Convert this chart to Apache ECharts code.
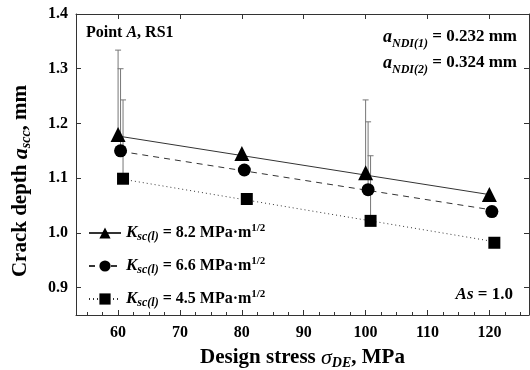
<!DOCTYPE html>
<html>
<head>
<meta charset="utf-8">
<script src="https://cdn.jsdelivr.net/npm/echarts@6/dist/echarts.min.js"></script>
<style>
  html, body { margin: 0; padding: 0; background: #fff; }
  #chart { width: 530px; height: 370px; }
</style>
</head>
<body>
<div id="chart"></div>
<script>
// design stress (MPa) for each symbol set, slightly offset as in the figure
const stressTri = [60, 80, 100, 120];
const stressCir = [60.4, 80.4, 100.4, 120.4];
const stressSq = [60.8, 80.8, 100.8, 120.8];

// crack depth a_scc (mm)
const depth82 = [1.180, 1.145, 1.110, 1.070];
const depth66 = [1.150, 1.115, 1.079, 1.039];
const depth45 = [1.099, 1.062, 1.022, 0.982];

// upper ends of the scatter bars (null = no bar)
const upper82 = [1.334, null, 1.243, null];
const upper66 = [1.300, null, 1.203, null];
const upper45 = [1.243, null, 1.141, null];

// trend lines, start and end values
const fit82 = [1.177, 1.070];
const fit66 = [1.149, 1.042];
const fit45 = [1.098, 0.984];

const xMajor = [60, 70, 80, 90, 100, 110, 120];
const xMinor = [55, 57.5, 62.5, 65, 67.5, 72.5, 75, 77.5, 82.5, 85, 87.5, 92.5, 95, 97.5,
  102.5, 105, 107.5, 112.5, 115, 117.5, 122.5, 125];
const yMajor = [0.9, 1.0, 1.1, 1.2, 1.3, 1.4];

const FONT = "Liberation Serif";

const pairs = (xs, ys) => xs.map((x, i) => [x, ys[i]]);
const bars = (xs, ys, tops) =>
  xs.map((x, i) => [x, ys[i], tops[i]]).filter((d) => d[2] != null);

const legendRich = {
  k: { fontFamily: FONT, fontWeight: "bold", fontStyle: "italic", fontSize: 17, color: "#000", lineHeight: 20 },
  sub: { fontFamily: FONT, fontWeight: "bold", fontStyle: "italic", fontSize: 12, color: "#000", verticalAlign: "bottom", lineHeight: 12 },
  b: { fontFamily: FONT, fontWeight: "bold", fontSize: 16, color: "#000", lineHeight: 20 },
  sup: { fontFamily: FONT, fontWeight: "bold", fontSize: 11, color: "#000", verticalAlign: "top", lineHeight: 11 },
};

// title styles (axis names)
const titleRich = {
  b: { fontFamily: FONT, fontWeight: "bold", fontSize: 21, color: "#000", fill: "#000", lineHeight: 24 },
  i: { fontFamily: FONT, fontWeight: "bold", fontStyle: "italic", fontSize: 22, color: "#000", fill: "#000", lineHeight: 24 },
  g: { fontFamily: FONT, fontStyle: "italic", fontSize: 22, color: "#000", fill: "#000", lineHeight: 24 },
  s: { fontFamily: FONT, fontWeight: "bold", fontStyle: "italic", fontSize: 14, color: "#000", fill: "#000", verticalAlign: "bottom", lineHeight: 14 },
};

const errorBar = (name, data) => ({
  name: name + "_err",
  type: "custom",
  data: data,
  z: 1,
  renderItem: (params, api) => {
    const lo = api.coord([api.value(0), api.value(1)]);
    const hi = api.coord([api.value(0), api.value(2)]);
    const st = { stroke: "#777", lineWidth: 1 };
    return {
      type: "group",
      children: [
        { type: "line", shape: { x1: lo[0], y1: lo[1], x2: hi[0], y2: hi[1] }, style: st },
        { type: "line", shape: { x1: hi[0] - 3, y1: hi[1], x2: hi[0] + 3, y2: hi[1] }, style: st },
      ],
    };
  },
});

const fitLine = (name, xs, ys, symbol, size, dash) => ({
  name: name,
  type: "line",
  data: [[xs[0], ys[0]], [xs[3], ys[1]]],
  symbol: symbol,
  symbolSize: size,
  showSymbol: false,
  color: "#000",
  lineStyle: { color: "#333", width: 1, type: dash },
  z: 2,
  silent: true,
});

const points = (name, data, symbol, size) => ({
  name: name + "_pts",
  type: "scatter",
  data: data,
  symbol: symbol,
  symbolSize: size,
  itemStyle: { color: "#000", opacity: 1 },
  z: 3,
});

const frameLine = { show: true, onZero: false, lineStyle: { color: "#333", width: 1 } };

const chart = echarts.init(document.getElementById("chart"));

chart.setOption({
  animation: false,
  grid: { left: 76, right: 1, top: 14, bottom: 55, outerBoundsMode: "none", containLabel: false },
  xAxis: [
    {
      type: "value",
      min: 53.2,
      max: 126.4,
      position: "bottom",
      axisLine: frameLine,
      axisTick: { inside: true, length: 5, customValues: xMajor, lineStyle: { color: "#333" } },
      axisLabel: {
        customValues: xMajor,
        fontFamily: FONT, fontWeight: "bold", fontSize: 16, color: "#000", margin: 10,
      },
      splitLine: { show: false },
      name: "{b|Design stress }{g|σ}{s|DE}{b|, MPa}",
      nameLocation: "middle",
      nameGap: 31,
      nameTextStyle: { rich: titleRich },
    },
    {
      type: "value",
      min: 53.2,
      max: 126.4,
      position: "bottom",
      axisLine: { show: false },
      axisTick: { inside: true, length: 3, customValues: xMinor, lineStyle: { color: "#333" } },
      axisLabel: { show: false },
      splitLine: { show: false },
    },
    {
      type: "value",
      min: 53.2,
      max: 126.4,
      position: "top",
      axisLine: frameLine,
      axisTick: { inside: true, length: 5, customValues: xMajor, lineStyle: { color: "#333" } },
      axisLabel: { show: false },
      splitLine: { show: false },
    },
  ],
  yAxis: [
    {
      type: "value",
      min: 0.85,
      max: 1.4,
      position: "left",
      axisLine: frameLine,
      axisTick: { show: true, inside: true, length: 5, customValues: yMajor, lineStyle: { color: "#333" } },
      axisLabel: {
        customValues: yMajor,
        formatter: (v) => v.toFixed(1),
        fontFamily: FONT, fontWeight: "bold", fontSize: 16, color: "#000", margin: 8,
      },
      splitLine: { show: false },
    },
    {
      type: "value",
      min: 0.85,
      max: 1.4,
      position: "right",
      axisLine: frameLine,
      axisTick: { show: true, inside: true, length: 5, customValues: yMajor, lineStyle: { color: "#333" } },
      axisLabel: { show: false },
      splitLine: { show: false },
    },
  ],
  legend: {
    orient: "vertical",
    left: 83,
    top: 218,
    itemWidth: 32,
    itemHeight: 14,
    itemGap: 13,
    selectedMode: false,
    data: ["k82", "k66", "k45"],
    formatter: (name) => {
      const val = { k82: "8.2", k66: "6.6", k45: "4.5" }[name];
      return "{k|K}{sub|sc(l)}{b| = " + val + " MPa·m}{sup|1/2}";
    },
    textStyle: { rich: legendRich },
  },
  graphic: [
    {
      type: "text",
      x: 21,
      y: 181,
      rotation: Math.PI / 2,
      style: {
        text: "{b|Crack depth }{i|a}{s|scc}{b|, mm}",
        align: "center",
        verticalAlign: "middle",
        rich: titleRich,
      },
    },
    {
      type: "text",
      x: 86,
      y: 33,
      style: {
        text: "{b|Point }{i|A}{b|, RS1}",
        verticalAlign: "middle",
        rich: {
          b: { fontFamily: FONT, fontWeight: "bold", fontSize: 16, fill: "#000" },
          i: { fontFamily: FONT, fontWeight: "bold", fontStyle: "italic", fontSize: 16, fill: "#000" },
        },
      },
    },
    {
      type: "text",
      x: 383,
      y: 24,
      style: {
        text: "{i|a}{s|NDI(1)}{b| = 0.232 mm}\n{i|a}{s|NDI(2)}{b| = 0.324 mm}",
        verticalAlign: "top",
        rich: {
          b: { fontFamily: FONT, fontWeight: "bold", fontSize: 17, fill: "#000", lineHeight: 26 },
          i: { fontFamily: FONT, fontWeight: "bold", fontStyle: "italic", fontSize: 18, fill: "#000", lineHeight: 26 },
          s: { fontFamily: FONT, fontWeight: "bold", fontStyle: "italic", fontSize: 12, fill: "#000", verticalAlign: "bottom", lineHeight: 12 },
        },
      },
    },
    {
      type: "text",
      x: 513,
      y: 295,
      style: {
        text: "{i|As}{b| = 1.0}",
        align: "right",
        verticalAlign: "middle",
        rich: {
          b: { fontFamily: FONT, fontWeight: "bold", fontSize: 17, fill: "#000" },
          i: { fontFamily: FONT, fontWeight: "bold", fontStyle: "italic", fontSize: 17, fill: "#000" },
        },
      },
    },
  ],
  series: [
    errorBar("k82", bars(stressTri, depth82, upper82)),
    errorBar("k66", bars(stressCir, depth66, upper66)),
    errorBar("k45", bars(stressSq, depth45, upper45)),
    fitLine("k82", stressTri, fit82, "triangle", 15, "solid"),
    fitLine("k66", stressCir, fit66, "circle", 13, [6, 5]),
    fitLine("k45", stressSq, fit45, "rect", 12, [1, 3]),
    points("k82", pairs(stressTri, depth82), "triangle", 15),
    points("k66", pairs(stressCir, depth66), "circle", 13),
    points("k45", pairs(stressSq, depth45), "rect", 12),
  ],
});
</script>
</body>
</html>
